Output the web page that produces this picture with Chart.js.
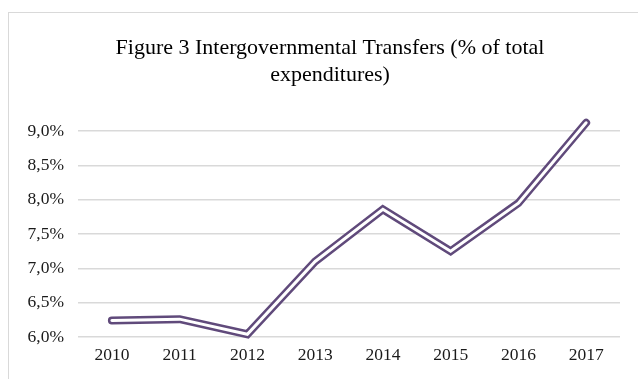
<!DOCTYPE html>
<html>
<head>
<meta charset="utf-8">
<script src="https://cdn.jsdelivr.net/npm/chart.js@4/dist/chart.umd.min.js"></script>
<style>
  html, body { margin: 0; padding: 0; background: #fff; overflow: hidden; }
  #wrap { position: relative; width: 638px; height: 379px; }
  #frame { position: absolute; left: 8px; top: 12px; width: 700px; height: 500px;
           border: 1.5px solid #d9d9d9; box-sizing: border-box; pointer-events: none; }
  canvas { position: absolute; left: 0; top: 0; }
</style>
</head>
<body>
<div id="wrap">
  <div id="frame"></div>
  <canvas id="c" width="638" height="379"></canvas>
</div>
<script>
const categories = ["2010", "2011", "2012", "2013", "2014", "2015", "2016", "2017"];
const transfers = [6.24, 6.26, 6.04, 7.10, 7.86, 7.25, 7.95, 9.12];
const titleLines = ["Figure 3 Intergovernmental Transfers (% of total", "expenditures)"];
const yMin = 6.0, yMax = 9.0, yStep = 0.5;

const serif = "'Liberation Serif', 'Times New Roman', serif";
const purple = "#604A7B";

// Center the title over the framed chart box rather than the padded layout
const titleShift = {
  id: "titleShift",
  afterLayout(chart) {
    const t = chart.titleBlock;
    if (t) { t.left += 20; t.right += 20; }
  }
};

new Chart(document.getElementById("c"), {
  type: "line",
  data: {
    labels: categories,
    datasets: [
      { data: transfers, borderColor: "#ffffff", borderWidth: 3, pointRadius: 0,
        tension: 0, borderCapStyle: "round", borderJoinStyle: "miter", clip: false },
      { data: transfers, borderColor: purple, borderWidth: 8, pointRadius: 0,
        tension: 0, borderCapStyle: "round", borderJoinStyle: "miter", clip: false }
    ]
  },
  plugins: [titleShift],
  options: {
    responsive: false,
    animation: false,
    layout: { padding: { left: 0, right: 18, top: 0, bottom: 0 } },
    plugins: {
      legend: { display: false },
      tooltip: { enabled: false },
      title: {
        display: true,
        text: titleLines,
        color: "#000",
        font: { family: serif, size: 22, weight: "normal", lineHeight: 1.25 },
        padding: { top: 34, bottom: 42 }
      }
    },
    scales: {
      x: {
        offset: true,
        grid: { display: false, drawTicks: false },
        border: { display: false },
        ticks: { color: "#1a1a1a", font: { family: serif, size: 17.5 }, padding: 8, maxRotation: 0 },
        afterFit(s) { s.height = 42; }
      },
      y: {
        min: yMin, max: yMax,
        grid: { color: "#d9d9d9", lineWidth: 1.5, drawTicks: false },
        border: { display: false },
        ticks: {
          stepSize: yStep,
          color: "#1a1a1a",
          font: { family: serif, size: 17.5 },
          padding: 14,
          callback: v => v.toFixed(1).replace(".", ",") + "%"
        },
        afterFit(s) { s.width = 78; }
      }
    }
  }
});
</script>
</body>
</html>
